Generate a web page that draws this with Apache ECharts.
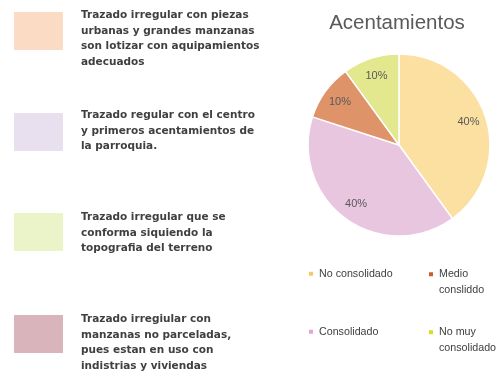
<!DOCTYPE html>
<html>
<head>
<meta charset="utf-8">
<script src="https://cdn.jsdelivr.net/npm/echarts@6/dist/echarts.min.js"></script>
<style>
  html, body { margin: 0; padding: 0; background: #fff; }
  #chart { width: 499px; height: 372px; }
</style>
</head>
<body>
<div id="chart"></div>
<script>
// Settlement categories and their shares (%)
const categories = ['No consolidado', 'Consolidado', 'Medio consliddo', 'No muy consolidado'];
const shares = [40, 40, 10, 10];
const sliceColors = ['#FBE0A2', '#E9C6DF', '#DE9369', '#E3E78E'];
const legendColors = ['#F9C95C', '#E2A6D0', '#CF5B2A', '#D6DE24'];
// How each legend entry is broken into lines
const legendLines = [['No consolidado'], ['Medio', 'consliddo'], ['Consolidado'], ['No muy', 'consolidado']];

// Descriptive key on the left: swatch colour + text lines
const keyColors = ['#FBDBC3', '#E8DFEF', '#EBF3C8', '#D9B4BB'];
const keyTexts = [
  ['Trazado irregular con piezas', 'urbanas y grandes manzanas', 'son lotizar con aquipamientos', 'adecuados'],
  ['Trazado regular con el centro', 'y primeros acentamientos de', 'la parroquia.'],
  ['Trazado irregular que se', 'conforma siquiendo la', 'topografia del terreno'],
  ['Trazado irregiular con', 'manzanas no parceladas,', 'pues estan en uso con', 'indistrias y viviendas']
];

const chart = echarts.init(document.getElementById('chart'), null, { renderer: 'canvas' });

const pieData = categories.map((c, i) => ({ name: c, value: shares[i], itemStyle: { color: sliceColors[i] } }));

// Key block layout
const keyTops = [12, 113, 213, 315];
const keyTextTops = [8, 108, 210, 312];
const graphics = [];
keyColors.forEach((col, i) => {
  graphics.push({
    type: 'rect', left: 14, top: keyTops[i],
    shape: { width: 49, height: 38 },
    style: { fill: col }
  });
  graphics.push({
    type: 'text', left: 81, top: keyTextTops[i],
    style: {
      text: keyTexts[i].join('\n'),
      font: 'bold 10.5px "DejaVu Sans", sans-serif',
      lineHeight: 15.5,
      fill: '#404040'
    }
  });
});

// One legend block per entry, in a 2x2 arrangement
const legendPos = [
  { left: 307, top: 266 },
  { left: 427, top: 251 },
  { left: 307, top: 324 },
  { left: 427, top: 309 }
];
const legendOrder = [0, 2, 1, 3];
const legends = legendOrder.map((ci, k) => {
  const lines = legendLines[k];
  return {
    left: legendPos[k].left,
    top: legendPos[k].top,
    padding: 0,
    orient: 'vertical',
    icon: 'rect',
    itemWidth: 6,
    itemHeight: 6,
    selectedMode: false,
    data: [{ name: categories[ci], itemStyle: { color: legendColors[ci] } }],
    formatter: () => (lines.length > 1 ? '\n' : '') + lines.join('\n'),
    textStyle: {
      fontFamily: '"Liberation Sans", Arial, sans-serif',
      fontSize: 10.7,
      lineHeight: 15.5,
      color: '#404040'
    }
  };
});

chart.setOption({
  animation: false,
  title: {
    text: 'Acentamientos',
    left: 392,
    top: 8,
    textAlign: 'center',
    textStyle: {
      fontFamily: '"Liberation Sans", Arial, sans-serif',
      fontSize: 20.5,
      fontWeight: 'normal',
      color: '#595959'
    }
  },
  legend: legends,
  graphic: graphics,
  series: [
    {
      type: 'pie',
      center: [399, 145],
      radius: [0, 91],
      startAngle: 90,
      clockwise: true,
      label: { show: false },
      labelLine: { show: false },
      itemStyle: { borderColor: '#fff', borderWidth: 1.5 },
      emphasis: { disabled: true },
      data: pieData
    },
    {
      // percentage labels, placed further out than the default inside position
      type: 'pie',
      center: [399, 145],
      radius: [0, 140],
      startAngle: 90,
      clockwise: true,
      silent: true,
      legendHoverLink: false,
      itemStyle: { color: 'transparent', borderWidth: 0 },
      label: {
        show: true,
        position: 'inside',
        formatter: '{d}%',
        fontFamily: '"Liberation Sans", Arial, sans-serif',
        fontSize: 11,
        color: '#595959'
      },
      labelLine: { show: false },
      emphasis: { disabled: true },
      data: categories.map((c, i) => ({ name: c + ' ', value: shares[i] }))
    }
  ]
});
</script>
</body>
</html>
